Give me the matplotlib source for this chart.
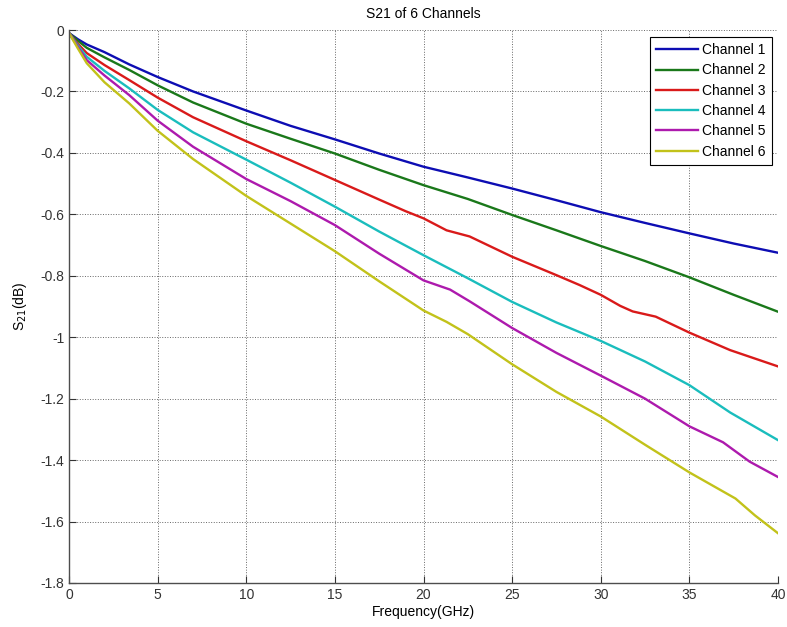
import numpy as np
import matplotlib
matplotlib.use('Agg')
import matplotlib.pyplot as plt
from matplotlib.ticker import FuncFormatter

plt.rcParams['font.family'] = ['Liberation Sans', 'DejaVu Sans']
plt.rcParams['axes.unicode_minus'] = False

# Dati (frequenza in GHz, S21 in dB)
f1 = [0, 0.5, 1, 2, 3.4, 5, 7, 10, 12.5, 15, 17.5, 20, 22.5, 25, 27.5, 30, 32.5, 35, 37.5, 40]
ch1 = [-0.01, -0.03, -0.047, -0.072, -0.112, -0.153, -0.2, -0.262, -0.312, -0.356, -0.402,
       -0.445, -0.48, -0.516, -0.554, -0.593, -0.628, -0.662, -0.695, -0.725]
ch2 = [-0.01, -0.035, -0.058, -0.089, -0.13, -0.18, -0.236, -0.305, -0.354, -0.402, -0.455,
       -0.505, -0.55, -0.602, -0.652, -0.703, -0.752, -0.805, -0.862, -0.917]

f3 = [0, 0.5, 1, 2, 3.4, 5, 7, 10, 12.5, 15, 17.5, 19, 20, 21.3, 22.6, 25, 27.5, 28.8, 30,
      31.1, 31.8, 33.1, 35, 37.3, 40]
ch3 = [-0.01, -0.045, -0.075, -0.114, -0.163, -0.22, -0.284, -0.362, -0.424, -0.488, -0.552,
       -0.59, -0.613, -0.652, -0.672, -0.738, -0.798, -0.83, -0.862, -0.898, -0.916, -0.933,
       -0.985, -1.042, -1.095]

f4 = [0, 0.5, 1, 2, 3.4, 5, 7, 10, 12.5, 15, 17.5, 20, 22.5, 25, 27.5, 30, 32.5, 35, 37.3, 40]
ch4 = [-0.01, -0.05, -0.087, -0.133, -0.19, -0.26, -0.333, -0.422, -0.497, -0.575, -0.656,
       -0.733, -0.808, -0.885, -0.952, -1.012, -1.079, -1.156, -1.245, -1.335]

f5 = [0, 0.5, 1, 2, 3.4, 5, 7, 10, 12.5, 15, 17.5, 20, 21.5, 22.6, 25, 27.5, 30, 32.5, 35,
      36.9, 38.4, 40]
ch5 = [-0.01, -0.055, -0.098, -0.148, -0.212, -0.295, -0.38, -0.485, -0.557, -0.635, -0.728,
       -0.815, -0.845, -0.883, -0.97, -1.051, -1.125, -1.2, -1.29, -1.342, -1.405, -1.455]

f6 = [0, 0.5, 1, 2, 3.4, 5, 7, 10, 12.5, 15, 17.5, 20, 21.3, 22.5, 25, 27.5, 30, 32.5, 35,
      37.6, 38.7, 40]
ch6 = [-0.01, -0.06, -0.108, -0.17, -0.239, -0.328, -0.42, -0.54, -0.63, -0.72, -0.818,
       -0.913, -0.95, -0.99, -1.088, -1.178, -1.258, -1.35, -1.44, -1.525, -1.58, -1.638]

frequenze = [f1, f1, f3, f4, f5, f6]
canali = [ch1, ch2, ch3, ch4, ch5, ch6]
etichette = ['Channel 1', 'Channel 2', 'Channel 3', 'Channel 4', 'Channel 5', 'Channel 6']
colori = [(0.05, 0.05, 0.7), (0.1, 0.47, 0.1), (0.85, 0.1, 0.1),
          (0.1, 0.74, 0.74), (0.68, 0.1, 0.68), (0.76, 0.76, 0.1)]

fig = plt.figure(figsize=(7.87, 6.27), dpi=100)
ax = fig.add_axes([69 / 787, 1 - 583 / 627, 709 / 787, 553 / 627])

for f, ch, lab, col in zip(frequenze, canali, etichette, colori):
    ax.plot(f, ch, color=col, lw=1.7, label=lab)

ax.set_xlim(0, 40)
ax.set_ylim(-1.8, 0)
ax.set_xticks(np.arange(0, 41, 5))
ax.set_yticks(np.arange(-1.8, 0.01, 0.2))
ax.yaxis.set_major_formatter(FuncFormatter(lambda v, p: '%g' % (round(v, 2) + 0.0)))
ax.grid(True, color='k', linestyle=':', linewidth=0.7, alpha=0.6)
ax.set_axisbelow(True)
ax.tick_params(direction='in', length=5, labelsize=10, colors='0.2', top=False, right=False)
for s in ['top', 'right']:
    ax.spines[s].set_visible(False)
for s in ['left', 'bottom']:
    ax.spines[s].set_color('0.3')
    ax.spines[s].set_linewidth(1.0)

ax.set_title('S21 of 6 Channels', fontsize=10, pad=9)
ax.set_xlabel('Frequency(GHz)', fontsize=10, labelpad=2)
ax.set_ylabel('S$_{21}$(dB)', fontsize=10, labelpad=8)

leg = ax.legend(loc='upper right', bbox_to_anchor=(772 / 787, 1 - 37 / 627),
                bbox_transform=fig.transFigure, fontsize=10, handlelength=3,
                fancybox=False, framealpha=1, edgecolor='k', borderaxespad=0,
                labelspacing=0.45, handletextpad=0.3, borderpad=0.45)
leg.get_frame().set_linewidth(0.8)

fig.savefig('out.png', dpi=100)
